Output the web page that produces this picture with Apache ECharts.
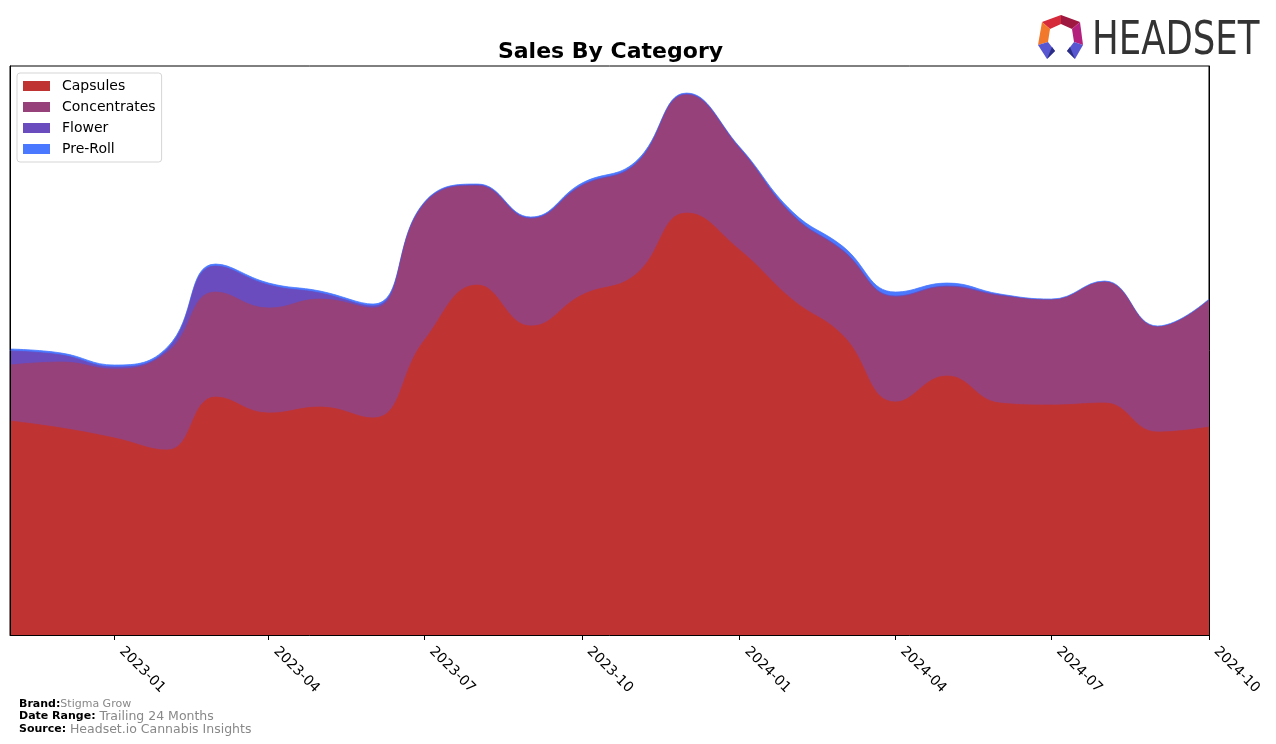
<!DOCTYPE html>
<html>
<head>
<meta charset="utf-8">
<script src="https://cdn.jsdelivr.net/npm/echarts@6/dist/echarts.min.js"></script>
<style>
html,body{margin:0;padding:0;background:#fff;}
#chart{width:1276px;height:744px;}
</style>
</head>
<body>
<div id="chart"></div>
<script>
const months = ['2022-11','2022-12','2023-01','2023-02','2023-03','2023-04','2023-05','2023-06','2023-07','2023-08','2023-09','2023-10','2023-11','2023-12','2024-01','2024-02','2024-03','2024-04','2024-05','2024-06','2024-07','2024-08','2024-09','2024-10'];
const capsules     = [214,207,197,185,238,222,228,217,295,350,309,340,360,422,385,335,300,233,259,232,230,232,203,208];
const concentrates = [56,66,69,98,105,105,108,110,136,99,107,109,110,118,101,84,84,105,89,107,105,121,105,127];
const flower       = [14,7,2,3,26,23,6,2,1,1,1,1,1,1,1,1,1,1,1,1,0,0,0,0];
const preRoll      = [2,2,2,2,2,2,2,2,1,1,1,2,2,1,1,3,4,4,3,1,1,1,1,1];
const tickLabels = ['2023-01','2023-04','2023-07','2023-10','2024-01','2024-04','2024-07','2024-10'];
const seriesNames = ['Capsules','Concentrates','Flower','Pre-Roll'];
const colors = ['#C03333','#96417A','#6A4CBE','#4A78FF'];

function ts(m){ const p=m.split('-'); return new Date(+p[0], +p[1]-1, 1).getTime(); }
function fmt(v){ const d=new Date(v); return d.getFullYear()+'-'+String(d.getMonth()+1).padStart(2,'0'); }
const tickValues = tickLabels.map(ts);
const seriesData = [capsules, concentrates, flower, preRoll];
// cumulative (stacked) values
const cumulative = seriesData.map((arr,k)=>months.map((m,i)=>{
  let s=0; for(let j=0;j<=k;j++) s+=seriesData[j][i]; return s;
}));
const yMax = Math.max(...cumulative[cumulative.length-1])*1.05;

const chart = echarts.init(document.getElementById('chart'), null, {renderer:'canvas'});
const option = {
  animation:false,
  color: colors,
  title:{
    text:'Sales By Category', left:605.5, top:36, textAlign:'center',
    textStyle:{fontFamily:'DejaVu Sans', fontWeight:'bold', fontSize:22, color:'#000'}
  },
  legend:{
    orient:'vertical', left:17, top:73, padding:[6,6,6,6],
    itemWidth:27, itemHeight:10, itemGap:7, icon:'rect',
    backgroundColor:'#fff', borderColor:'#d5d5d5', borderWidth:1, borderRadius:3,
    textStyle:{fontFamily:'DejaVu Sans', fontSize:14, color:'#000', lineHeight:14, padding:[0,0,0,7]},
    data: seriesNames
  },
  grid:{left:10, right:67, top:66, bottom:109, show:true, borderColor:'#000', borderWidth:1, containLabel:false},
  xAxis:{
    type:'value', min:ts(months[0]), max:ts(months[months.length-1]), z:10,
    axisLine:{show:true, onZero:false, lineStyle:{color:'#000', width:1}},
    axisTick:{show:true, length:5, lineStyle:{color:'#000'}, customValues: tickValues},
    axisLabel:{show:true, rotate:-45, margin:7, padding:[0,0,0,10], fontFamily:'DejaVu Sans', fontSize:14, color:'#000',
      customValues: tickValues, formatter: v=>fmt(v), showMinLabel:true, showMaxLabel:true},
    splitLine:{show:false}
  },
  yAxis:[
    {type:'value', min:0, max:yMax, position:'left', z:10,
     axisLine:{show:true, onZero:false, lineStyle:{color:'#000'}}, axisTick:{show:false}, axisLabel:{show:false}, splitLine:{show:false}},
    {type:'value', min:0, max:yMax, position:'right', z:10,
     axisLine:{show:true, onZero:false, lineStyle:{color:'#000'}}, axisTick:{show:false}, axisLabel:{show:false}, splitLine:{show:false}}
  ],
  series: seriesNames.map((name,k)=>({
    name, type:'line', smooth:0.45, showSymbol:false, symbol:'none',
    z: 6 - k,
    lineStyle:{width:0.8, color: colors[k]},
    areaStyle:{color: colors[k], opacity:1, origin:'start'},
    data: months.map((m,i)=>[ts(m), cumulative[k][i]])
  })),
  graphic:[
    {type:'text', left:19, top:699, style:{
      text:'{b|Brand:}{g|Stigma Grow}',
      rich:{b:{fontFamily:'DejaVu Sans', fontWeight:'bold', fontSize:11, fill:'#000'},
            g:{fontFamily:'DejaVu Sans', fontSize:11, fill:'#888'}}}},
    {type:'text', left:19, top:710, style:{
      text:'{b|Date Range: }{g|Trailing 24 Months}',
      rich:{b:{fontFamily:'DejaVu Sans', fontWeight:'bold', fontSize:11, fill:'#000'},
            g:{fontFamily:'DejaVu Sans', fontSize:12.5, fill:'#888'}}}},
    {type:'text', left:19, top:723, style:{
      text:'{b|Source: }{g|Headset.io Cannabis Insights}',
      rich:{b:{fontFamily:'DejaVu Sans', fontWeight:'bold', fontSize:11, fill:'#000'},
            g:{fontFamily:'DejaVu Sans', fontSize:12.5, fill:'#888'}}}},
    {type:'group', children:[
      {type:'polygon', shape:{points:[[1042,22],[1061,15],[1061,24],[1050,29]]}, style:{fill:'#D62B3A'}},
      {type:'polygon', shape:{points:[[1061,15],[1080,22],[1072,29],[1061,24]]}, style:{fill:'#9E1840'}},
      {type:'polygon', shape:{points:[[1042,22],[1050,29],[1048,42],[1038,45]]}, style:{fill:'#F2782B'}},
      {type:'polygon', shape:{points:[[1080,22],[1083,45],[1074,42],[1072,29]]}, style:{fill:'#B3207D'}},
      {type:'polygon', shape:{points:[[1038,45],[1048,42],[1055,51],[1047,59]]}, style:{fill:'#5856D0'}},
      {type:'polygon', shape:{points:[[1047,59],[1055,51],[1052,47]]}, style:{fill:'#2B2E84'}},
      {type:'polygon', shape:{points:[[1083,45],[1074,42],[1067,51],[1075,59]]}, style:{fill:'#5856D0'}},
      {type:'polygon', shape:{points:[[1075,59],[1067,51],[1070,47]]}, style:{fill:'#2B2E84'}}
    ]},
    {type:'text', x:1092, y:18, scaleX:0.84, style:{
      text:'HEADSET', fontFamily:'Liberation Sans Narrow, DejaVu Sans Condensed, Liberation Sans', fontSize:47, fill:'#333'}}
  ]
};
chart.setOption(option);
</script>
</body>
</html>
